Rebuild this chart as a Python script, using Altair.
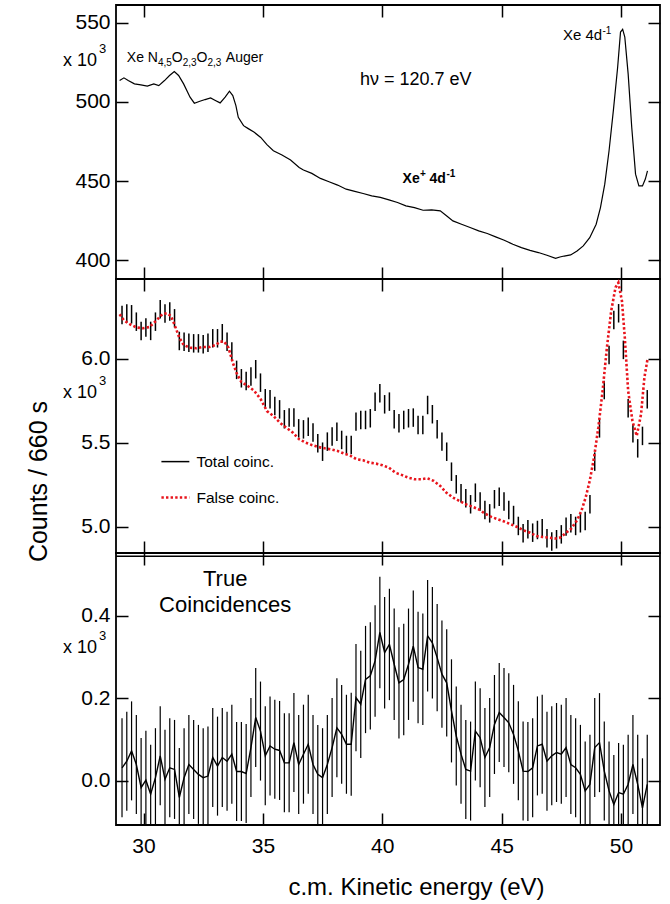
import altair as alt
import pandas as pd

FONT = "Liberation Sans"

# ---------------- data ----------------
# Top panel: electron spectrum (x 10^3 counts)
TOP_E = [29.00, 29.18, 29.36, 29.62, 29.89, 30.16, 30.43, 30.64, 30.88, 31.09,
         31.29, 31.47, 31.68, 31.95, 32.13, 32.36, 32.58, 32.81, 33.03, 33.21,
         33.42, 33.60, 33.74, 33.87, 33.97, 34.19, 34.37, 34.64, 34.91, 35.17,
         35.44, 35.80, 36.16, 36.52, 36.70, 37.05, 37.41, 37.77, 38.13, 38.49,
         38.85, 39.20, 39.56, 39.92, 40.28, 40.64, 40.99, 41.35, 41.71, 42.07,
         42.43, 42.69, 42.96, 43.32, 43.68, 44.04, 44.40, 44.75, 45.11, 45.47,
         45.83, 46.19, 46.54, 46.90, 47.26, 47.44, 47.62, 47.89, 48.16, 48.42,
         48.69, 48.96, 49.14, 49.32, 49.50, 49.68, 49.86, 49.98, 50.07, 50.16,
         50.30, 50.45, 50.61, 50.75, 50.90, 51.02, 51.11]
TOP_V = [513.5, 515.2, 513.5, 511.4, 510.8, 510.0, 511.4, 510.3, 513.5, 516.7,
         519.2, 516.7, 511.4, 503.0, 499.2, 500.4, 501.5, 502.5, 500.8, 499.4,
         503.0, 506.8, 504.0, 497.7, 490.3, 485.0, 483.3, 480.8, 477.6, 473.0,
         469.2, 466.5, 463.3, 458.6, 457.0, 454.9, 451.7, 449.6, 447.5, 444.9,
         443.5, 442.2, 440.7, 439.7, 438.2, 436.5, 434.4, 433.3, 431.6, 431.9,
         431.2, 428.1, 424.9, 422.8, 420.7, 418.6, 416.9, 414.8, 412.7, 410.1,
         408.0, 406.3, 404.9, 403.2, 401.3, 402.1, 402.7, 403.4, 405.9, 409.1,
         414.3, 422.8, 433.3, 448.1, 469.2, 494.5, 521.9, 544.1, 545.8, 540.9,
         517.7, 484.0, 454.4, 447.0, 447.0, 451.3, 456.5]

# Energy grid of the coincidence channels
ENERGY = [29.1, 29.3, 29.5, 29.7, 29.9, 30.1, 30.3, 30.5, 30.7, 30.9,
          31.1, 31.3, 31.5, 31.7, 31.9, 32.1, 32.3, 32.5, 32.7, 32.9,
          33.1, 33.3, 33.5, 33.7, 33.9, 34.1, 34.3, 34.5, 34.7, 34.9,
          35.1, 35.3, 35.5, 35.7, 35.9, 36.1, 36.3, 36.5, 36.7, 36.9,
          37.1, 37.3, 37.5, 37.7, 37.9, 38.1, 38.3, 38.5, 38.7, 38.9,
          39.1, 39.3, 39.5, 39.7, 39.9, 40.1, 40.3, 40.5, 40.7, 40.9,
          41.1, 41.3, 41.5, 41.7, 41.9, 42.1, 42.3, 42.5, 42.7, 42.9,
          43.1, 43.3, 43.5, 43.7, 43.9, 44.1, 44.3, 44.5, 44.7, 44.9,
          45.1, 45.3, 45.5, 45.7, 45.9, 46.1, 46.3, 46.5, 46.7, 46.9,
          47.1, 47.3, 47.5, 47.7, 47.9, 48.1, 48.3, 48.5, 48.7, 48.9,
          49.1, 49.3, 49.5, 49.7, 49.9, 50.1, 50.3, 50.5, 50.7, 50.9,
          51.1]

# Middle panel: total coincidences (x 10^3)
TOTAL = [6.260, 6.268, 6.264, 6.220, 6.165, 6.185, 6.165, 6.220, 6.294, 6.268,
         6.280, 6.240, 6.105, 6.100, 6.095, 6.091, 6.091, 6.085, 6.095, 6.121,
         6.121, 6.151, 6.101, 6.042, 5.933, 5.883, 5.867, 5.893, 5.937, 5.857,
         5.764, 5.758, 5.718, 5.698, 5.639, 5.649, 5.649, 5.585, 5.579, 5.595,
         5.560, 5.496, 5.446, 5.506, 5.536, 5.565, 5.516, 5.486, 5.486, 5.625,
         5.635, 5.635, 5.645, 5.744, 5.794, 5.728, 5.744, 5.639, 5.615, 5.635,
         5.645, 5.649, 5.605, 5.605, 5.724, 5.669, 5.579, 5.506, 5.446, 5.327,
         5.252, 5.198, 5.169, 5.133, 5.202, 5.149, 5.099, 5.079, 5.163, 5.178,
         5.149, 5.099, 5.069, 5.004, 4.960, 4.984, 4.964, 4.980, 4.990, 4.931,
         4.911, 4.925, 4.954, 5.000, 5.020, 5.004, 5.020, 5.034, 5.133, 5.387,
         5.585, 5.813, 6.022, 6.230, 6.270, 6.052, 5.704, 5.556, 5.466, 5.540,
         5.758]
TOTAL_ERR = 0.055

# Middle panel: false coincidences (red dotted)
FALSE_E = [29.00, 29.18, 29.44, 29.71, 29.98, 30.25, 30.52, 30.79, 30.97, 31.15,
           31.32, 31.50, 31.68, 31.95, 32.22, 32.49, 32.76, 33.03, 33.21, 33.38,
           33.56, 33.74, 33.92, 34.10, 34.37, 34.64, 34.91, 35.17, 35.44, 35.71,
           35.98, 36.25, 36.52, 36.79, 37.05, 37.32, 37.59, 37.86, 38.13, 38.40,
           38.67, 38.93, 39.20, 39.47, 39.74, 40.01, 40.28, 40.55, 40.81, 41.08,
           41.35, 41.62, 41.89, 42.16, 42.43, 42.69, 42.96, 43.23, 43.50, 43.77,
           44.04, 44.31, 44.57, 44.84, 45.11, 45.38, 45.65, 45.92, 46.19, 46.46,
           46.72, 46.99, 47.26, 47.44, 47.62, 47.89, 48.16, 48.34, 48.52, 48.69,
           48.87, 49.05, 49.23, 49.41, 49.59, 49.77, 49.89, 50.04, 50.16, 50.30,
           50.48, 50.66, 50.84, 50.98, 51.11]
FALSE_V = [6.264, 6.228, 6.204, 6.185, 6.181, 6.188, 6.224, 6.264, 6.270, 6.254,
           6.194, 6.125, 6.081, 6.065, 6.062, 6.069, 6.069, 6.081, 6.101, 6.101,
           6.065, 5.976, 5.907, 5.861, 5.837, 5.808, 5.758, 5.688, 5.659, 5.619,
           5.589, 5.560, 5.520, 5.500, 5.486, 5.474, 5.466, 5.460, 5.450, 5.435,
           5.421, 5.401, 5.395, 5.381, 5.375, 5.365, 5.351, 5.321, 5.308, 5.292,
           5.282, 5.282, 5.288, 5.272, 5.242, 5.202, 5.173, 5.153, 5.133, 5.119,
           5.103, 5.077, 5.058, 5.044, 5.030, 5.014, 4.998, 4.978, 4.964, 4.944,
           4.938, 4.934, 4.929, 4.934, 4.954, 4.984, 5.038, 5.093, 5.173, 5.272,
           5.411, 5.589, 5.808, 6.065, 6.284, 6.423, 6.452, 6.343, 6.125, 5.808,
           5.629, 5.540, 5.669, 5.887, 5.996]

# Bottom panel: true coincidences (x 10^3)
TRUE = [0.032, 0.048, 0.073, 0.040, -0.016, 0.002, -0.032, 0.008, 0.061, 0.004,
        0.032, 0.028, -0.040, 0.008, 0.040, 0.028, 0.016, 0.008, 0.012, 0.057,
        0.036, 0.057, 0.048, 0.065, 0.023, 0.023, 0.018, 0.081, 0.154, 0.121,
        0.061, 0.085, 0.077, 0.074, 0.044, 0.044, 0.093, 0.040, 0.065, 0.089,
        0.040, 0.016, 0.008, 0.040, 0.081, 0.129, 0.113, 0.089, 0.089, 0.202,
        0.186, 0.246, 0.255, 0.291, 0.360, 0.311, 0.331, 0.283, 0.238, 0.246,
        0.283, 0.327, 0.275, 0.271, 0.352, 0.335, 0.299, 0.259, 0.238, 0.170,
        0.109, 0.065, 0.028, 0.024, 0.121, 0.105, 0.057, 0.081, 0.137, 0.166,
        0.154, 0.141, 0.113, 0.073, 0.024, 0.023, 0.032, 0.085, 0.089, 0.048,
        0.061, 0.069, 0.065, 0.081, 0.040, 0.032, 0.016, -0.024, -0.008, 0.081,
        0.093, 0.024, -0.024, -0.057, -0.028, -0.032, -0.008, 0.040, -0.008, -0.065,
        -0.008]
TRUE_ERR = [0.12, 0.12, 0.12, 0.12, 0.12, 0.12, 0.12, 0.12, 0.12, 0.12,
            0.12, 0.12, 0.12, 0.12, 0.12, 0.12, 0.12, 0.12, 0.12, 0.12,
            0.12, 0.12, 0.12, 0.12, 0.12, 0.12, 0.12, 0.12, 0.12, 0.12,
            0.12, 0.12, 0.12, 0.12, 0.12, 0.12, 0.12, 0.12, 0.12, 0.12,
            0.12, 0.12, 0.12, 0.12, 0.12, 0.12, 0.12, 0.12, 0.125, 0.13,
            0.13, 0.13, 0.13, 0.135, 0.135, 0.135, 0.135, 0.135, 0.135, 0.135,
            0.135, 0.135, 0.135, 0.135, 0.135, 0.135, 0.13, 0.13, 0.13, 0.125,
            0.12, 0.12, 0.12, 0.12, 0.12, 0.12, 0.12, 0.12, 0.12, 0.12,
            0.12, 0.12, 0.12, 0.12, 0.12, 0.12, 0.12, 0.12, 0.12, 0.12,
            0.12, 0.12, 0.12, 0.12, 0.12, 0.12, 0.12, 0.12, 0.12, 0.12,
            0.12, 0.12, 0.12, 0.12, 0.12, 0.12, 0.12, 0.12, 0.12, 0.12,
            0.12]

X_TICKS = [30, 35, 40, 45, 50]
TOP_TICKS = [400, 450, 500, 550]
MID_TICKS = [5.0, 5.5, 6.0]
BOT_TICKS = [0.0, 0.2, 0.4]

# ---------------- scales ----------------
XS = alt.Scale(domain=[28.848, 51.634], nice=False, zero=False)
TS = alt.Scale(domain=[388.2, 561.2], nice=False, zero=False)
MS = alt.Scale(domain=[4.843, 6.474], nice=False, zero=False)
BS = alt.Scale(domain=[-0.1067, 0.5527], nice=False, zero=False)

W = 544
RED = "#e8141c"
FRAME = alt.ViewBackground(stroke="black", strokeWidth=1.8, fill="white")
TICK = dict(tickSize=12, offset=-12, domain=False, grid=False, ticks=True,
            tickColor="black", tickWidth=1.5)


def left_axis(values, fmt, **kw):
    return alt.Axis(orient="left", values=values, format=fmt, labelFontSize=21,
                    labelPadding=6, labelColor="black", labelFont=FONT, **TICK, **kw)


def right_axis(values):
    return alt.Axis(orient="right", values=values, labels=False, **TICK)


def top_axis():
    return alt.Axis(orient="top", values=X_TICKS, labels=False, **TICK)


def bottom_axis(labels, **kw):
    return alt.Axis(orient="bottom", values=X_TICKS, labels=labels, format="d",
                    labelFontSize=21, labelPadding=10, labelColor="black",
                    labelFont=FONT, **TICK, **kw)


def txt(x, y, s, ys, size, dx=0, dy=0, weight="normal", align="left",
        baseline="alphabetic"):
    return alt.Chart(pd.DataFrame({"x": [x], "y": [y], "t": [s]})).mark_text(
        align=align, baseline=baseline, dx=dx, dy=dy, fontSize=size,
        fontWeight=weight, font=FONT, color="black"
    ).encode(x=alt.X("x:Q", scale=XS, axis=None),
             y=alt.Y("y:Q", scale=ys, axis=None), text="t:N")


def pix(px, py, s, size, align="right"):
    return alt.Chart(pd.DataFrame({"t": [s]})).mark_text(
        align=align, baseline="alphabetic", fontSize=size, font=FONT, color="black"
    ).encode(x=alt.value(px), y=alt.value(py), text="t:N")


def x10(py):
    return [pix(-19, py, "x 10", 18, "right"), pix(-17, py - 13, "3", 13, "left")]


# ---------------- top panel ----------------
top_df = pd.DataFrame({"e": TOP_E, "v": TOP_V})
top_line = alt.Chart(top_df).mark_line(color="black", strokeWidth=1.2).encode(
    x=alt.X("e:Q", scale=XS, axis=bottom_axis(False), title=None),
    y=alt.Y("v:Q", scale=TS, axis=left_axis(TOP_TICKS, "d"), title=None))
top_mirror = alt.Chart(top_df).mark_point(opacity=0).encode(
    x=alt.X("e:Q", scale=XS, axis=top_axis(), title=None),
    y=alt.Y("v:Q", scale=TS, axis=right_axis(TOP_TICKS), title=None))

auger = [
    txt(29.30, 525.2, "Xe N", TS, 14),
    txt(29.30, 525.2, "4,5", TS, 10, dx=31.1, dy=4),
    txt(29.30, 525.2, "O", TS, 14, dx=45.0),
    txt(29.30, 525.2, "2,3", TS, 10, dx=55.9, dy=4),
    txt(29.30, 525.2, "O", TS, 14, dx=69.8),
    txt(29.30, 525.2, "2,3", TS, 10, dx=80.7, dy=4),
    txt(29.30, 525.2, "Auger", TS, 14, dx=99.0),
]
hv = [txt(39.07, 510.5, "h\u03bd = 120.7 eV", TS, 18)]
xeplus = [
    txt(40.85, 449.0, "Xe", TS, 14, weight="bold"),
    txt(40.85, 449.0, "+", TS, 10, dx=17.5, dy=-6, weight="bold"),
    txt(40.85, 449.0, "4d", TS, 14, dx=27.0, weight="bold"),
    txt(40.85, 449.0, "-1", TS, 10, dx=44.0, dy=-6, weight="bold"),
]
xe4d = [
    txt(47.57, 538.9, "Xe 4d", TS, 15),
    txt(47.57, 538.9, "-1", TS, 10, dx=39.5, dy=-6),
]

top = alt.layer(top_line, top_mirror, *auger, *hv, *xeplus, *xe4d, *x10(61)).resolve_axis(
    x="independent", y="independent").properties(width=W, height=274, view=FRAME)

# ---------------- middle panel ----------------
mid_df = pd.DataFrame({"e": ENERGY, "v": TOTAL})
mid_df["lo"] = mid_df["v"] - TOTAL_ERR
mid_df["hi"] = mid_df["v"] + TOTAL_ERR
false_df = pd.DataFrame({"e": FALSE_E, "v": FALSE_V})

mid_bars = alt.Chart(mid_df).mark_rule(color="black", strokeWidth=1.5, clip=True).encode(
    x=alt.X("e:Q", scale=XS, axis=bottom_axis(False), title=None),
    y=alt.Y("lo:Q", scale=MS,
            axis=left_axis(MID_TICKS, ".1f", titleFontSize=25, titleFont=FONT,
                           titleColor="black", titleFontWeight="normal",
                           titleX=-90, titleY=202, titleAngle=270,
                           titleAlign="center", titleBaseline="middle"),
            title="Counts / 660 s"),
    y2="hi:Q")
mid_mirror = alt.Chart(mid_df).mark_point(opacity=0).encode(
    x=alt.X("e:Q", scale=XS, axis=top_axis(), title=None),
    y=alt.Y("v:Q", scale=MS, axis=right_axis(MID_TICKS), title=None))
false_line = alt.Chart(false_df).mark_line(
    color=RED, strokeWidth=2.6, strokeDash=[2.4, 2.2], clip=True
).encode(x=alt.X("e:Q", scale=XS, axis=None), y=alt.Y("v:Q", scale=MS, axis=None))

leg_total = alt.Chart(pd.DataFrame({"x": [30.75], "x2": [31.92], "y": [5.387]})).mark_rule(
    color="black", strokeWidth=1.5).encode(
    x=alt.X("x:Q", scale=XS, axis=None), x2="x2:Q", y=alt.Y("y:Q", scale=MS, axis=None))
leg_false = alt.Chart(pd.DataFrame({"x": [30.75], "x2": [31.92], "y": [5.173]})).mark_rule(
    color=RED, strokeWidth=2.6, strokeDash=[2.4, 2.2]).encode(
    x=alt.X("x:Q", scale=XS, axis=None), x2="x2:Q", y=alt.Y("y:Q", scale=MS, axis=None))
leg_texts = [
    txt(32.22, 5.387, "Total coinc.", MS, 15.5, baseline="middle"),
    txt(32.22, 5.173, "False coinc.", MS, 15.5, baseline="middle"),
]

mid = alt.layer(mid_bars, mid_mirror, false_line, leg_total, leg_false, *leg_texts,
                *x10(119)).resolve_axis(x="independent", y="independent").properties(
    width=W, height=274, view=FRAME)

# ---------------- bottom panel ----------------
bot_df = pd.DataFrame({"e": ENERGY, "v": TRUE, "err": TRUE_ERR})
bot_df["lo"] = bot_df["v"] - bot_df["err"]
bot_df["hi"] = bot_df["v"] + bot_df["err"]

bot_line = alt.Chart(bot_df).mark_line(color="black", strokeWidth=1.4, clip=True).encode(
    x=alt.X("e:Q", scale=XS,
            axis=bottom_axis(True, titleFontSize=24, titleFont=FONT, titleColor="black",
                             titleFontWeight="normal", titleX=300, titleY=81,
                             titleAlign="center", titleBaseline="alphabetic"),
            title="c.m. Kinetic energy (eV)"),
    y=alt.Y("v:Q", scale=BS, axis=left_axis(BOT_TICKS, ".1f"), title=None))
bot_mirror = alt.Chart(bot_df).mark_point(opacity=0).encode(
    x=alt.X("e:Q", scale=XS, axis=top_axis(), title=None),
    y=alt.Y("v:Q", scale=BS, axis=right_axis(BOT_TICKS), title=None))
bot_bars = alt.Chart(bot_df).mark_rule(color="black", strokeWidth=1.2, clip=True).encode(
    x=alt.X("e:Q", scale=XS, axis=None),
    y=alt.Y("lo:Q", scale=BS, axis=None), y2="hi:Q")
# second line of the double frame between middle and bottom panels
double_line = alt.Chart(pd.DataFrame({"a": [0]})).mark_rule(
    color="black", strokeWidth=1.5).encode(
    x=alt.value(0), x2=alt.value(W), y=alt.value(3.3))
true_lbl = [
    txt(33.42, 0.473, "True", BS, 22, align="center"),
    txt(33.42, 0.410, "Coincidences", BS, 22, align="center"),
]

bot = alt.layer(bot_line, bot_mirror, bot_bars, double_line, *true_lbl,
                *x10(100)).resolve_axis(x="independent", y="independent").properties(
    width=W, height=272, view=FRAME)

# ---------------- assemble ----------------
chart = alt.vconcat(top, mid, bot, spacing=0, bounds="flush").properties(
    padding={"left": 25, "top": 3, "right": 5, "bottom": 0},
    background="white",
).configure_view(stroke="black", strokeWidth=1.8).configure(font=FONT)

chart.save("out.html", embed_options={"renderer": "svg", "actions": False})
